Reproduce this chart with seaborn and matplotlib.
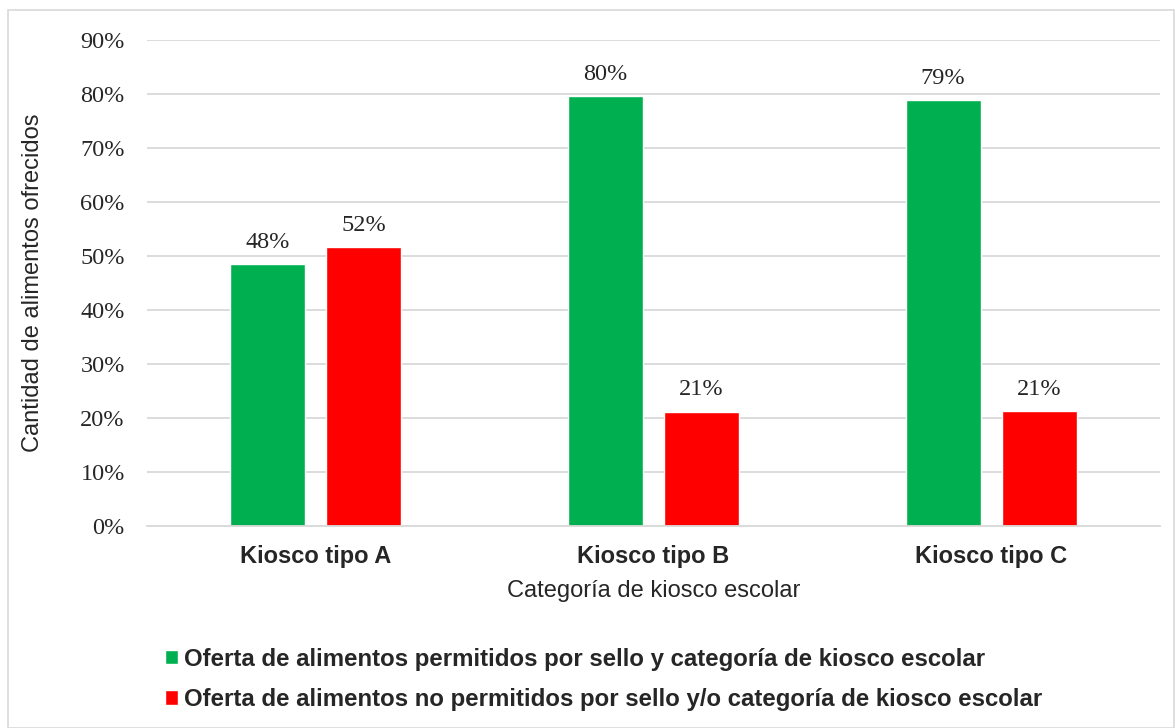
import matplotlib.pyplot as plt
import seaborn as sns
import pandas as pd
from matplotlib.patches import Rectangle
from matplotlib.ticker import PercentFormatter, MultipleLocator

# Data
categorias = ['Kiosco tipo A', 'Kiosco tipo B', 'Kiosco tipo C']
permitidos = [0.485, 0.796, 0.789]
no_permitidos = [0.517, 0.212, 0.213]
series = ['Oferta de alimentos permitidos por sello y categoría de kiosco escolar',
          'Oferta de alimentos no permitidos por sello y/o categoría de kiosco escolar']
colores = ['#00b050', '#ff0000']

df = pd.DataFrame({
    'categoria': categorias * 2,
    'valor': permitidos + no_permitidos,
    'serie': [series[0]] * 3 + [series[1]] * 3,
})

sns.set_style('white')
plt.rcParams['font.family'] = ['Liberation Sans', 'DejaVu Sans']

fig = plt.figure(figsize=(11.75, 7.28), dpi=100)
fig.patches.append(Rectangle((8 / 1175, 0), 1 - 8 / 1175 - 0.001, 1 - 10 / 728,
                             transform=fig.transFigure, fill=False,
                             edgecolor='#d9d9d9', linewidth=1.2))

ax = fig.add_axes([147 / 1175, 1 - 526 / 728, (1160 - 147) / 1175, (526 - 40) / 728])
sns.barplot(data=df, x='categoria', y='valor', hue='serie', palette=colores,
            width=0.57, gap=0.22, ax=ax, saturation=1)

for cont in ax.containers:
    ax.bar_label(cont, labels=[f'{b.get_height():.0%}' for b in cont], padding=8,
                 fontsize=17.5, family='Liberation Serif')

ax.set_ylim(0, 0.9)
ax.yaxis.set_major_locator(MultipleLocator(0.1))
ax.yaxis.set_major_formatter(PercentFormatter(1.0, decimals=0))
ax.grid(axis='y', color='#d9d9d9', linewidth=1.3)
ax.set_axisbelow(True)
for s in ['top', 'right', 'left']:
    ax.spines[s].set_visible(False)
ax.spines['bottom'].set_color('#d9d9d9')
ax.spines['bottom'].set_linewidth(1.3)
ax.tick_params(axis='both', length=0)
ax.tick_params(axis='y', pad=16)
ax.tick_params(axis='x', pad=14)
for t in ax.get_yticklabels():
    t.set_family('Liberation Serif')
    t.set_fontsize(17.5)
for t in ax.get_xticklabels():
    t.set_fontweight('bold')
    t.set_fontsize(17)

ax.set_xlabel('Categoría de kiosco escolar', fontsize=17, labelpad=8)
ax.set_ylabel('Cantidad de alimentos ofrecidos', fontsize=17)
ax.yaxis.set_label_coords(-0.102, 0.5)

handles, labels = ax.get_legend_handles_labels()
ax.get_legend().remove()
fig.legend(handles, labels, loc='upper left', bbox_to_anchor=(143 / 1175, 1 - 626 / 728),
           frameon=False, ncol=1, handlelength=0.55, handleheight=0.55, handletextpad=0.25,
           labelspacing=0.72, prop={'weight': 'bold', 'size': 17.3})

fig.savefig('out.png', dpi=100)
